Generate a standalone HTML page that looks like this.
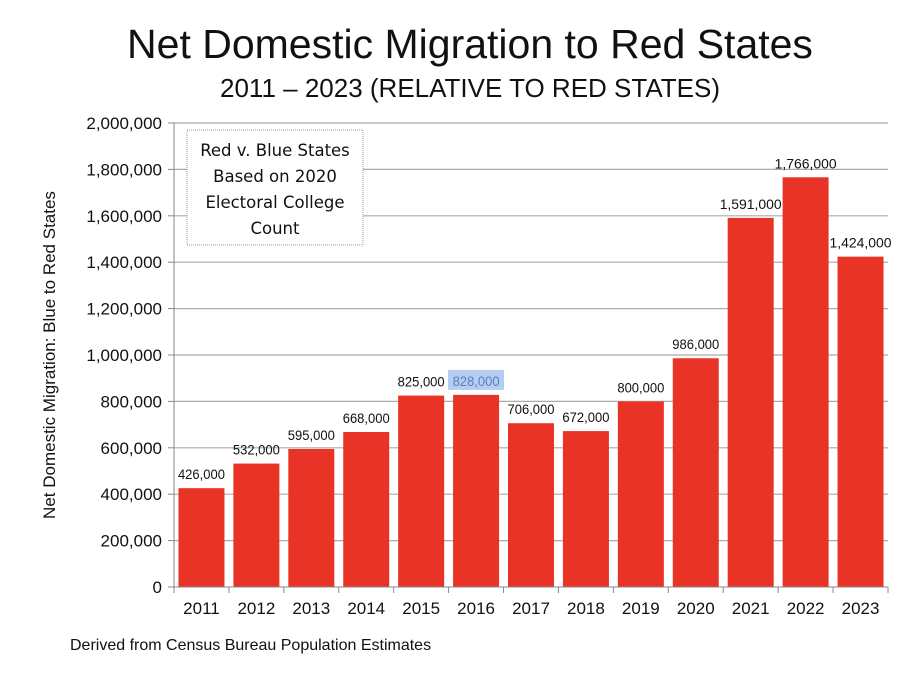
<!DOCTYPE html>
<html><head><meta charset="utf-8"><style>
body{margin:0;background:#fff;width:924px;height:670px;overflow:hidden;font-family:"Liberation Sans",sans-serif}
</style></head><body>
<svg width="924" height="670" xmlns="http://www.w3.org/2000/svg">
<text x="470" y="58" text-anchor="middle" font-size="41" fill="#111">Net Domestic Migration to Red States</text>
<text x="470" y="97" text-anchor="middle" font-size="26" fill="#111">2011 – 2023 (RELATIVE TO RED STATES)</text>
<g id="grid"></g><g id="bars"></g><g id="labels"></g><g id="axes"></g>
<g>
<rect x="187" y="130" width="176" height="115" fill="#fff" stroke="#999" stroke-dasharray="1,1"/>
<text font-family="'DejaVu Sans',sans-serif" font-size="16.5" fill="#111" text-anchor="middle">
<tspan x="275" y="156">Red v. Blue States</tspan><tspan x="275" y="182">Based on 2020</tspan><tspan x="275" y="208">Electoral College</tspan><tspan x="275" y="234">Count</tspan></text></g>
<text transform="translate(55,355) rotate(-90)" text-anchor="middle" font-size="17" fill="#111">Net Domestic Migration: Blue to Red States</text>
<text x="70" y="650" font-size="16" fill="#111">Derived from Census Bureau Population Estimates</text>
</svg>
<script>
const years=["2011","2012","2013","2014","2015","2016","2017","2018","2019","2020","2021","2022","2023"];
const values=[426000,532000,595000,668000,825000,828000,706000,672000,800000,986000,1591000,1766000,1424000];
const valueLabels=["426,000","532,000","595,000","668,000","825,000","828,000","706,000","672,000","800,000","986,000","1,591,000","1,766,000","1,424,000"];
const yTicks=[0,200000,400000,600000,800000,1000000,1200000,1400000,1600000,1800000,2000000];
const yTickLabels=["0","200,000","400,000","600,000","800,000","1,000,000","1,200,000","1,400,000","1,600,000","1,800,000","2,000,000"];
const NS="http://www.w3.org/2000/svg";
const x0=174,x1=888,yb=587,yt=123,ymax=2000000;
const step=(x1-x0)/years.length;
const Y=v=>yb-(v/ymax)*(yb-yt);
const X=i=>x0+i*step;
function mk(t,a,p){const e=document.createElementNS(NS,t);for(const k in a)e.setAttribute(k,a[k]);p.appendChild(e);return e;}
const grid=document.getElementById('grid'),bars=document.getElementById('bars'),labels=document.getElementById('labels'),axes=document.getElementById('axes');
yTicks.forEach((v,i)=>{
 if(v>0){const l=mk('line',{x1:x0,x2:x1,y1:Y(v),y2:Y(v),stroke:'#aaa','stroke-width':1.2},grid);
 
 }
 mk('line',{x1:x0-6,x2:x0,y1:Y(v),y2:Y(v),stroke:'#888'},axes);
 const t=mk('text',{x:x0-12,y:Y(v)+6,'text-anchor':'end','font-size':17,fill:'#111'},axes);
 t.textContent=yTickLabels[i];
 
 
});
mk('line',{x1:x0,x2:x0,y1:yt,y2:yb,stroke:'#888'},axes);
mk('line',{x1:x0,x2:x1,y1:yb,y2:yb,stroke:'#888'},axes);
years.forEach((yr,i)=>{
 mk('line',{x1:X(i),x2:X(i),y1:yb,y2:yb+6,stroke:'#888'},axes);
 if(i==years.length-1)mk('line',{x1:X(i+1),x2:X(i+1),y1:yb,y2:yb+6,stroke:'#888'},axes);
 const bw=46,bx=X(i)+(step-bw)/2;
 const r=mk('rect',{x:bx,y:Y(values[i]),width:bw,height:yb-Y(values[i]),fill:'#e83326'},bars);
 
 
 const cx=X(i)+step/2;
 if(i==5)mk('rect',{x:cx-28,y:Y(values[i])-25,width:56,height:20,fill:'#b4cdf0'},labels);
 const t=mk('text',{x:cx,y:Y(values[i])-9,'text-anchor':'middle','font-size':14,fill:i==5?'#5a7fc0':'#111','textLength':i>=10?62:47,'lengthAdjust':'spacingAndGlyphs'},labels);
 t.textContent=valueLabels[i];
 
 
 const xt=mk('text',{x:cx,y:yb+27,'text-anchor':'middle','font-size':17,fill:'#111'},axes);
 xt.textContent=yr;
 
 
});
</script>
</body></html>
